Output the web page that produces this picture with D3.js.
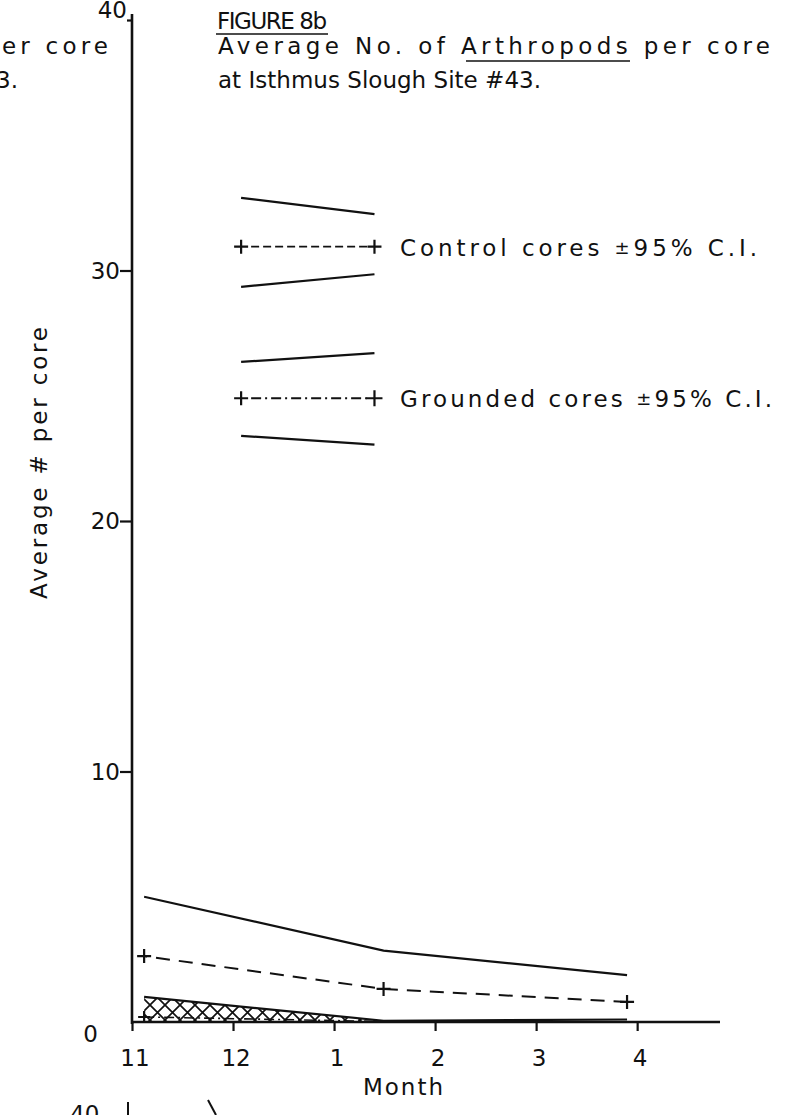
<!DOCTYPE html>
<html><head><meta charset="utf-8">
<script src="https://cdn.jsdelivr.net/npm/d3@7"></script>
<style>
html,body{margin:0;background:#fff}
svg{display:block}
text{font-family:"DejaVu Sans",sans-serif;fill:#111;font-size:23px}
</style>
</head><body>
<svg id="chart" width="799" height="1115"></svg>
<script>
// Axis ticks
const monthTicks = [11, 12, 13, 14, 15, 16];
const monthLabels = ["11", "12", "1", "2", "3", "4"];
const valueTicks = [10, 20, 30, 40];

// Control cores: mean and 95% C.I.
const controlMonths = [11.12, 13.49, 15.90];
const controlMean = [2.63, 1.32, 0.80];
const controlUpper = [5.00, 2.85, 1.87];
const controlLower = [1.00, 0.05, 0.10];

// Grounded cores: mean and 95% C.I.
const groundedMonths = [11.12, 13.49];
const groundedMean = [0.20, 0.02];
const groundedUpper = [1.00, 0.05];
const groundedLower = [0.00, 0.00];

// Key samples drawn on the plot grid
const keyMonths = [12.08, 13.40];
const keyControlUpper = [32.90, 32.25];
const keyControlMean = [30.95, 30.95];
const keyControlLower = [29.35, 29.85];
const keyGroundedUpper = [26.35, 26.70];
const keyGroundedMean = [24.90, 24.90];
const keyGroundedLower = [23.40, 23.05];

const svg = d3.select("#chart");
const x = d3.scaleLinear().domain([11, 16.82]).range([132, 720]);
const y = d3.scaleLinear().domain([0, 40]).range([1022, 20]);

const ink = "#111";

// cross-hatch for the grounded C.I. band
const defs = svg.append("defs");
const pat = defs.append("pattern").attr("id", "xhatch")
  .attr("patternUnits", "userSpaceOnUse").attr("width", 15).attr("height", 15);
pat.append("path").attr("d", "M0,0L15,15M15,0L0,15")
  .attr("stroke", ink).attr("stroke-width", 1.7).attr("fill", "none");

const line = (xs, ys) => d3.line().x((d, i) => x(xs[i])).y(d => y(d))(ys);

// grounded band
const band = d3.area()
  .x((d, i) => x(groundedMonths[i]))
  .y0((d, i) => y(groundedLower[i]))
  .y1(d => y(d));
svg.append("path").attr("d", band(groundedUpper))
  .attr("fill", "url(#xhatch)").attr("stroke", "none");

// control C.I. bounds
[controlUpper, controlLower].forEach(s => {
  svg.append("path").attr("d", line(controlMonths, s))
    .attr("fill", "none").attr("stroke", ink).attr("stroke-width", 2.2);
});
// control mean
svg.append("path").attr("d", line(controlMonths, controlMean))
  .attr("fill", "none").attr("stroke", ink).attr("stroke-width", 2)
  .attr("stroke-dasharray", "14,9").attr("stroke-dashoffset", -12);
// grounded mean
svg.append("path").attr("d", line(groundedMonths, groundedMean))
  .attr("fill", "none").attr("stroke", ink).attr("stroke-width", 1.6)
  .attr("stroke-dasharray", "10,4,2,4");

function plus(px, py, h) {
  svg.append("path")
    .attr("d", `M${px - h},${py}H${px + h}M${px},${py - h}V${py + h}`)
    .attr("stroke", ink).attr("stroke-width", 2.2).attr("fill", "none");
}
controlMonths.forEach((m, i) => plus(x(m), y(controlMean[i]), 7));
plus(x(groundedMonths[0]), y(groundedMean[0]), 6);

// axes
const yAxis = svg.append("g").attr("transform", `translate(${x(11)},0)`)
  .call(d3.axisLeft(y).tickValues(valueTicks).tickSize(12).tickFormat(""));
yAxis.select(".domain").remove();
yAxis.selectAll(".tick line").attr("stroke", ink).attr("stroke-width", 2.2);
yAxis.select(".tick:last-of-type line").attr("x2", -5);
svg.append("line").attr("x1", x(11)).attr("x2", x(11))
  .attr("y1", y(40) - 6).attr("y2", y(0) + 2)
  .attr("stroke", ink).attr("stroke-width", 2.6);

const xAxis = svg.append("g").attr("transform", `translate(0,${y(0)})`)
  .call(d3.axisBottom(x).tickValues(monthTicks).tickSize(9).tickFormat(""));
xAxis.select(".domain").attr("stroke", ink).attr("stroke-width", 2.4)
  .attr("d", `M${x(11)},0H${x(16.82)}`);
xAxis.selectAll(".tick line").attr("stroke", ink).attr("stroke-width", 2.2);

// tick labels
monthTicks.forEach((m, i) => {
  svg.append("text").attr("x", x(m) + 3).attr("y", 1066)
    .attr("text-anchor", "middle").text(monthLabels[i]);
});
valueTicks.forEach(v => {
  svg.append("text").attr("x", v === 40 ? 127 : 120)
    .attr("y", v === 40 ? 18 : y(v) + 8).attr("text-anchor", "end").text(v);
});
svg.append("text").attr("x", 98).attr("y", 1042).attr("text-anchor", "end").text("0");

svg.append("text").attr("x", 404).attr("y", 1095).attr("text-anchor", "middle")
  .attr("letter-spacing", 2).text("Month");
svg.append("text").attr("transform", "translate(47,463) rotate(-90)")
  .attr("text-anchor", "middle").attr("textLength", 272).attr("lengthAdjust", "spacing")
  .text("Average # per core");

// heading
svg.append("text").attr("x", 217).attr("y", 29).attr("font-size", 20)
  .attr("textLength", 110).attr("lengthAdjust", "spacing").text("FIGURE 8b");
svg.append("line").attr("x1", 216).attr("x2", 328).attr("y1", 34).attr("y2", 34)
  .attr("stroke", ink).attr("stroke-width", 1.6);
svg.append("text").attr("x", 218).attr("y", 54).attr("textLength", 552)
  .attr("lengthAdjust", "spacing").text("Average No. of Arthropods per core");
svg.append("line").attr("x1", 466).attr("x2", 630).attr("y1", 61).attr("y2", 61)
  .attr("stroke", ink).attr("stroke-width", 1.6);
svg.append("text").attr("x", 218).attr("y", 88).attr("textLength", 323)
  .attr("lengthAdjust", "spacing").text("at Isthmus Slough Site #43.");

// fragments of the neighbouring figure
svg.append("text").attr("x", 2).attr("y", 54).attr("textLength", 106)
  .attr("lengthAdjust", "spacing").text("er core");
svg.append("text").attr("x", -4).attr("y", 88).text("3.");
svg.append("text").attr("x", 70).attr("y", 1122).text("40");
svg.append("line").attr("x1", 128).attr("x2", 128).attr("y1", 1102).attr("y2", 1115)
  .attr("stroke", ink).attr("stroke-width", 2);
svg.append("line").attr("x1", 208).attr("x2", 216).attr("y1", 1100).attr("y2", 1115)
  .attr("stroke", ink).attr("stroke-width", 2);

// key
[keyControlUpper, keyControlLower, keyGroundedUpper, keyGroundedLower].forEach(s => {
  svg.append("path").attr("d", line(keyMonths, s))
    .attr("fill", "none").attr("stroke", ink).attr("stroke-width", 2.2);
});
const keyX0 = x(keyMonths[0]), keyX1 = x(keyMonths[1]);
svg.append("line").attr("x1", keyX0 + 10).attr("x2", keyX1 - 6)
  .attr("y1", y(keyControlMean[0])).attr("y2", y(keyControlMean[1]))
  .attr("stroke", ink).attr("stroke-width", 1.8).attr("stroke-dasharray", "8,4");
svg.append("line").attr("x1", keyX0 + 10).attr("x2", keyX1 - 6)
  .attr("y1", y(keyGroundedMean[0])).attr("y2", y(keyGroundedMean[1]))
  .attr("stroke", ink).attr("stroke-width", 1.8).attr("stroke-dasharray", "10,4,2,4");
plus(keyX0, y(keyControlMean[0]), 7);
plus(keyX1, y(keyControlMean[1]), 7);
plus(keyX0, y(keyGroundedMean[0]), 7);
plus(keyX1, y(keyGroundedMean[1]), 8);

function keyLabel(py, name, len) {
  const t = svg.append("text").attr("x", 400).attr("y", py);
  t.append("tspan").text(name + " ");
  t.append("tspan").attr("font-size", 18).attr("dy", -2).text("\u00B1");
  t.append("tspan").attr("dy", 2).text("95% C.I.");
  t.attr("textLength", len).attr("lengthAdjust", "spacing");
}
keyLabel(y(keyControlMean[0]) + 9, "Control cores", 357);
keyLabel(y(keyGroundedMean[0]) + 9, "Grounded cores", 372);
</script>
</body></html>
